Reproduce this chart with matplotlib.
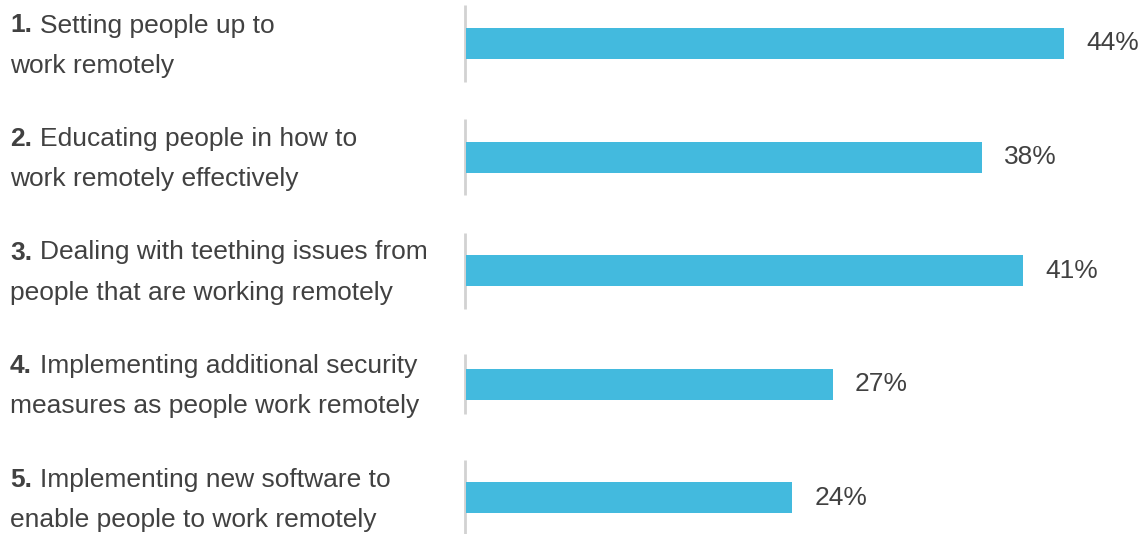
import matplotlib
matplotlib.use("Agg")
import matplotlib.pyplot as plt
import matplotlib.transforms as mtransforms

# Survey results
ranks = ["1.", "2.", "3.", "4.", "5."]
first_lines = [
    "Setting people up to",
    "Educating people in how to",
    "Dealing with teething issues from",
    "Implementing additional security",
    "Implementing new software to",
]
second_lines = [
    "work remotely",
    "work remotely effectively",
    "people that are working remotely",
    "measures as people work remotely",
    "enable people to work remotely",
]
values = [44, 38, 41, 27, 24]
value_labels = ["44%", "38%", "41%", "27%", "24%"]

BAR_COLOR = "#43BADE"
TEXT_COLOR = "#414141"
RULE_COLOR = "#d2d2d2"
FONT = "Liberation Sans"
FS = 19

W, H = 1147, 534
fig = plt.figure(figsize=(W / 100, H / 100), dpi=100)
fig.patch.set_facecolor("white")

ax_left = 466 / W
ax = fig.add_axes([ax_left, 0, 1 - ax_left, 1])
ax.set_axis_off()

px_per_unit = 13.59
ax.set_xlim(0, (W - 466) / px_per_unit)
row_px = 113.5
top_px = 43.5
ax.set_ylim((H - top_px) / row_px, -top_px / row_px)

pos = list(range(len(values)))
ax.barh(pos, values, height=31 / row_px, color=BAR_COLOR, zorder=2)

# thin grey rule at the start of each bar
rule_half = [38, 38, 38, 30, 38]
for i, hh in zip(pos, rule_half):
    ax.vlines(-1 / px_per_unit, i - hh / row_px, i + hh / row_px,
              color=RULE_COLOR, linewidth=2, zorder=1, clip_on=False)

# value labels
for i, (v, lab) in enumerate(zip(values, value_labels)):
    ax.annotate(lab, xy=(v, i), xytext=(22, 0), textcoords="offset pixels",
                va="center", ha="left", fontsize=FS, family=FONT,
                color=TEXT_COLOR, annotation_clip=False)

# category labels: bold rank followed by regular text
trans = mtransforms.blended_transform_factory(fig.transFigure, ax.transData)
dy = 20 / row_px
shift = 2 / row_px
for i in pos:
    rk = ax.text(10 / W, i - dy + shift, ranks[i], transform=trans,
                 va="center", ha="left", fontsize=FS, family=FONT,
                 fontweight="bold", color=TEXT_COLOR, clip_on=False)
    ax.annotate(first_lines[i], xy=(1, 0), xycoords=rk, xytext=(7.5, 0),
                textcoords="offset pixels", va="bottom", ha="left",
                fontsize=FS, family=FONT, color=TEXT_COLOR,
                annotation_clip=False)
    ax.text(10 / W, i + dy + shift, second_lines[i], transform=trans,
            va="center", ha="left", fontsize=FS, family=FONT,
            color=TEXT_COLOR, clip_on=False)

fig.savefig("out.png", dpi=100, facecolor="white")
